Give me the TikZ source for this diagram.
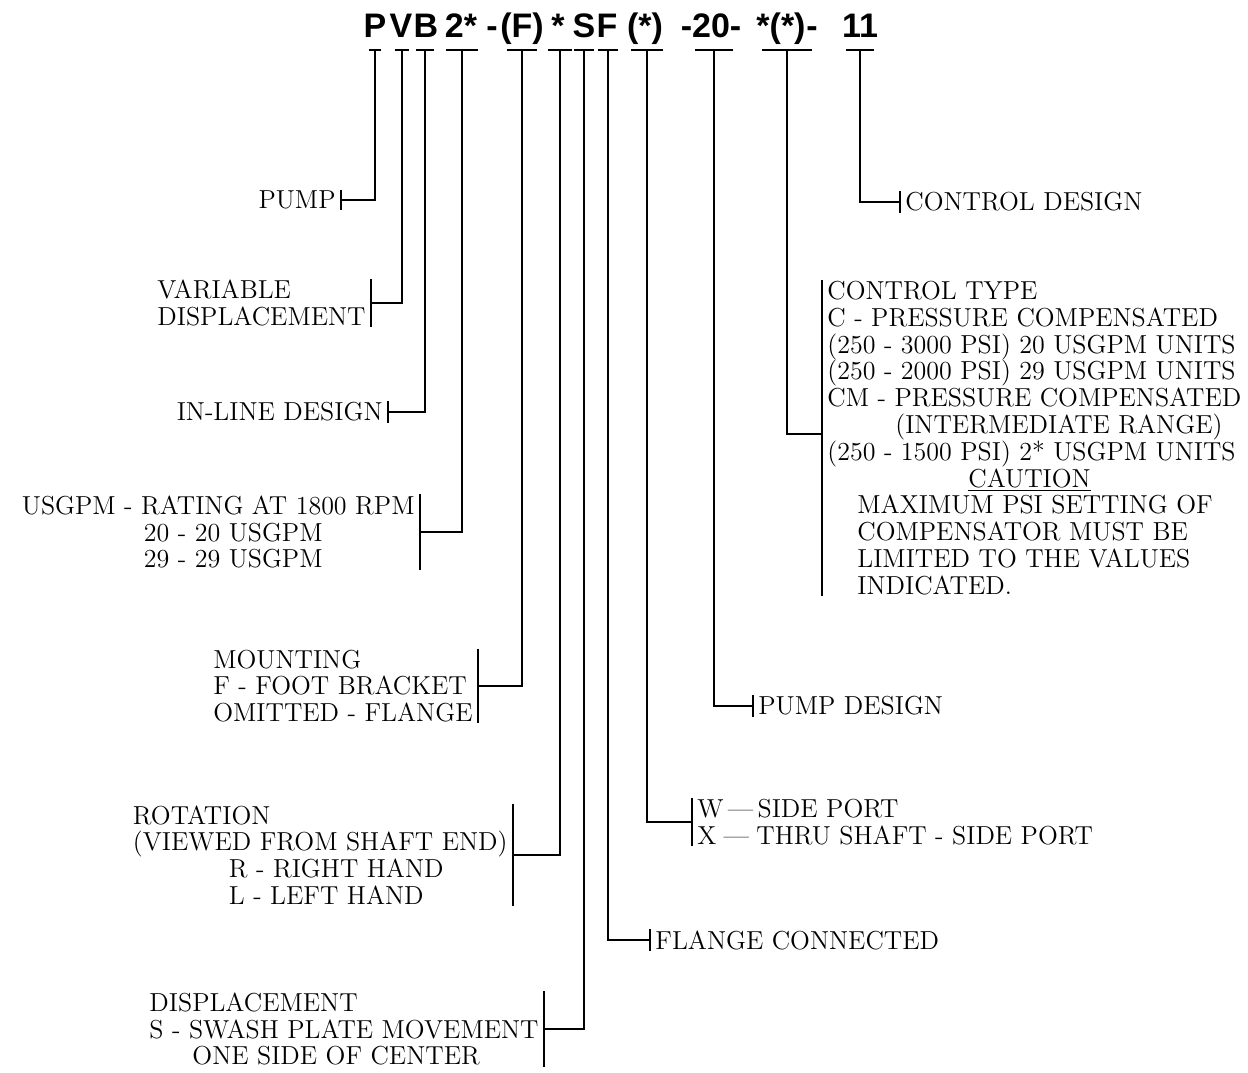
\documentclass[tikz,border=0pt]{standalone}
\usepackage{fontspec}
\usepackage{tikz}
\usetikzlibrary{calc}
\newfontfamily\codefont{Liberation Sans}
\tikzset{
  lead/.style={line width=0.75pt, draw=black},
  code/.style={font=\codefont\bfseries\fontsize{17}{17}\selectfont, inner sep=0pt, anchor=base},
  lbl/.style={font=\fontsize{13}{13.4}\selectfont, align=left, inner xsep=2.5pt, inner ysep=0.4pt},
  lbll/.style={lbl, anchor=east},
  lblr/.style={lbl, anchor=west}
}
\newcommand{\Stem}[3]{% name,x,halfwidth
  \coordinate (#1) at (#2,50);
  \draw[lead] ($(#1)+(-#3,0)$) -- ($(#1)+(#3,0)$);
}

\begin{document}
\begin{tikzpicture}[x=0.5pt,y=-0.5pt]
  \useasboundingbox (0,0) rectangle (1248,1072);
  % model code
  \node[code] (hP) at (375,37) {P};
  \node[code] (hV) at (401,37) {V};
  \node[code] (hB) at (426,37) {B};
  \node[code] (hsize) at (461,37) {2*};
  \node[code] (hdashA) at (492,37) {-};
  \node[code] (hmount) at (522,37) {(F)};
  \node[code] (hrot) at (558,37) {*};
  \node[code] (hS) at (584,37) {S};
  \node[code] (hflg) at (607,37) {F};
  \node[code] (hport) at (645,37) {(*)};
  \node[code] (hdes) at (711,37) {-20-};
  \node[code] (hctl) at (781,37) {*(*)};
  \node[code] (hdashB) at (812,37) {-};
  \node[code] (hcdes) at (860,37) {11};
  % stems
  \Stem{sP}{375}{6}
  \Stem{sV}{402}{7}
  \Stem{sB}{425}{9}
  \Stem{ssize}{462}{16}
  \Stem{smount}{522}{15}
  \Stem{srot}{560}{12}
  \Stem{sS}{584}{10}
  \Stem{sflg}{608}{10}
  \Stem{sport}{647}{16}
  \Stem{sdes}{714}{19}
  \Stem{sctl}{787}{25}
  \Stem{scdes}{860}{14}
  % left labels
  \node[lbll] (pump) at (341,200) {PUMP};
  \node[lbll] (var) at (371,303) {VARIABLE\\DISPLACEMENT};
  \node[lbll] (inl) at (388,412) {IN-LINE DESIGN};
  \node[lbll] (usg) at (420,532) {USGPM - RATING AT 1800 RPM\\
    \hspace*{61pt}20 - 20 USGPM\\
    \hspace*{61pt}29 - 29 USGPM};
  \node[lbll] (mnt) at (478,686) {MOUNTING\\F - FOOT BRACKET\\OMITTED - FLANGE};
  \node[lbll] (rot) at (513,855) {ROTATION\\(VIEWED FROM SHAFT END)\\
    \hspace*{48pt}R - RIGHT HAND\\
    \hspace*{48pt}L - LEFT HAND};
  \node[lbll] (dsp) at (544,1029) {DISPLACEMENT\\S - SWASH PLATE MOVEMENT\\
    \hspace*{21.5pt}ONE SIDE OF CENTER};
  % right labels
  \node[lblr] (cdes) at (900,202) {CONTROL DESIGN};
  \node[lblr] (ctl) at (822,438) {CONTROL TYPE\\
    C - PRESSURE COMPENSATED\\
    (250 - 3000 PSI) 20 USGPM UNITS\\
    (250 - 2000 PSI) 29 USGPM UNITS\\
    CM - PRESSURE COMPENSATED\\
    \hspace*{34pt}(INTERMEDIATE RANGE)\\
    (250 - 1500 PSI) 2* USGPM UNITS\\
    \hspace*{70.5pt}\underline{CAUTION}\\
    \hspace*{15pt}MAXIMUM PSI SETTING OF\\
    \hspace*{15pt}COMPENSATOR MUST BE\\
    \hspace*{15pt}LIMITED TO THE VALUES\\
    \hspace*{15pt}INDICATED.};
  \node[lblr] (pdes) at (753,706) {PUMP DESIGN};
  \node[lblr] (wx) at (692,822) {W\,---\,SIDE PORT\\X\;---\;THRU SHAFT - SIDE PORT};
  \node[lblr] (flg) at (650,940) {FLANGE CONNECTED};
  % ticks
  \foreach \n in {pump,var,inl,usg,mnt,rot,dsp}
    \draw[lead] (\n.north east) -- (\n.south east);
  \foreach \n in {cdes,ctl,pdes,wx,flg}
    \draw[lead] (\n.north west) -- (\n.south west);
  % leads
  \draw[lead] (sP) |- (pump.east);
  \draw[lead] (sV) |- (var.east);
  \draw[lead] (sB) |- (inl.east);
  \draw[lead] (ssize) |- (usg.east);
  \draw[lead] (smount) |- (mnt.east);
  \draw[lead] (srot) |- (rot.east);
  \draw[lead] (sS) |- (dsp.east);
  \draw[lead] (sflg) |- (flg.west);
  \draw[lead] (sport) |- (wx.west);
  \draw[lead] (sdes) |- (pdes.west);
  \draw[lead] (sctl) |- ($(ctl.west)+(0,-4)$);
  \draw[lead] (scdes) |- (cdes.west);
\end{tikzpicture}
\end{document}
